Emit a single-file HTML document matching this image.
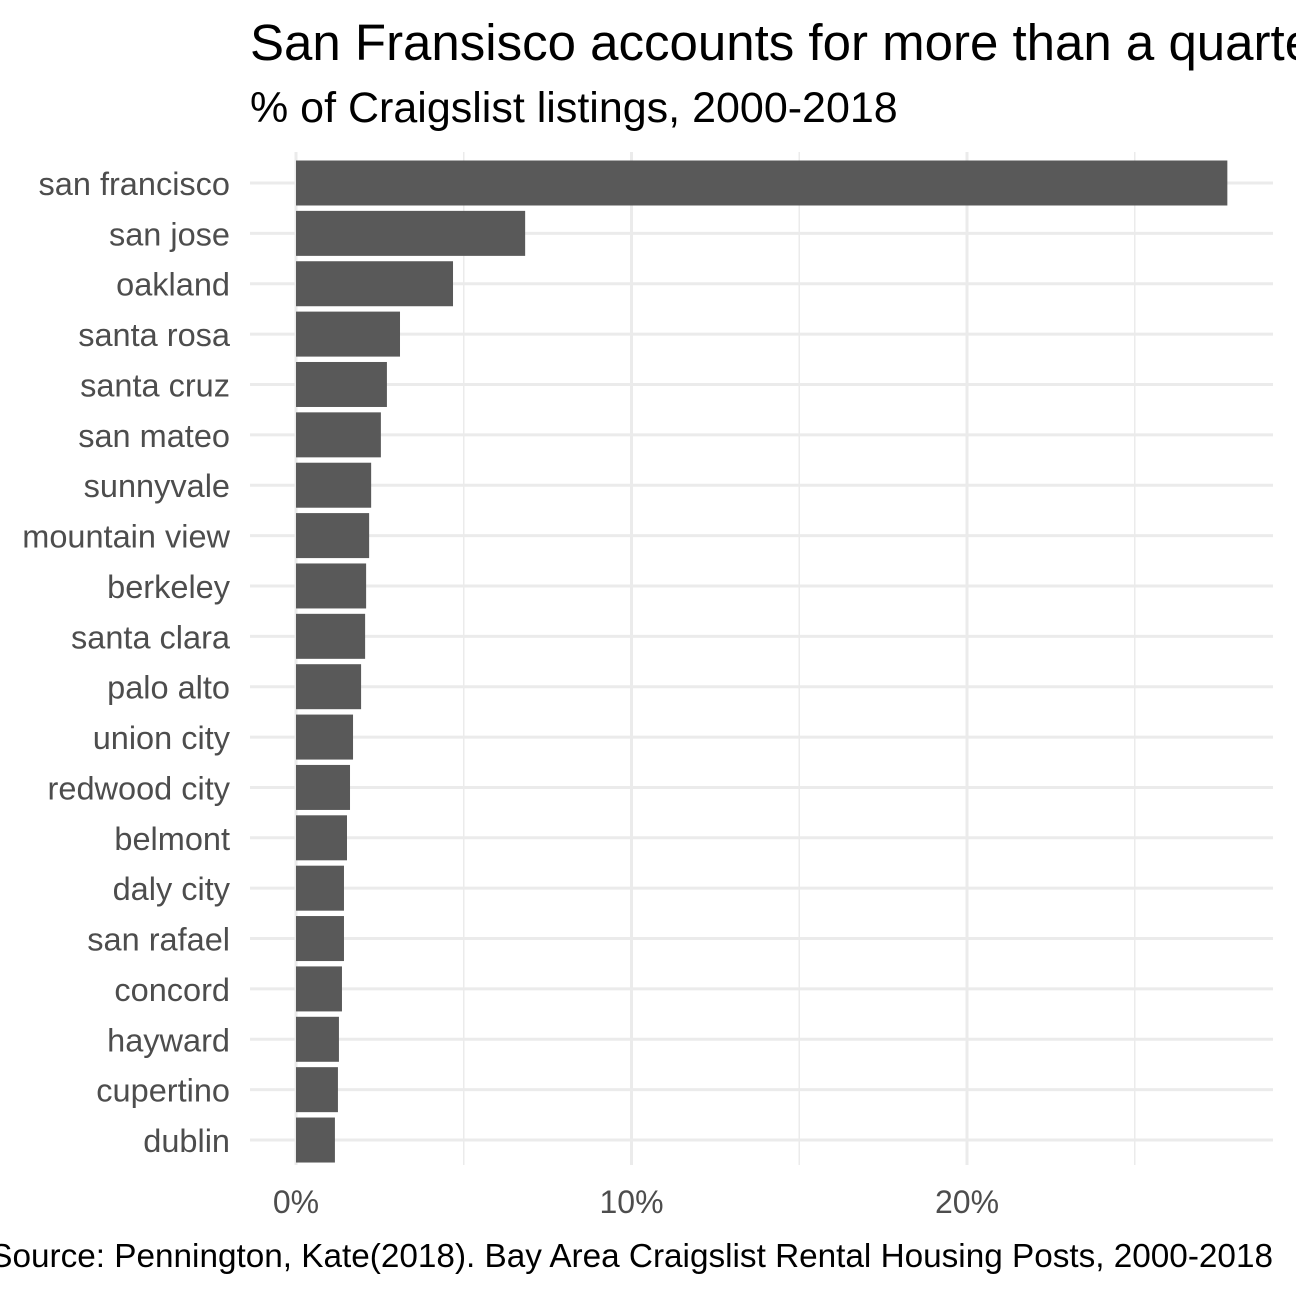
<!DOCTYPE html>
<html><head><meta charset="utf-8"><style>
html,body{margin:0;padding:0;background:#fff;width:1296px;height:1296px;overflow:hidden}
svg{display:block;font-family:"Liberation Sans",Arial,sans-serif}
</style></head><body>
<svg id="chart" width="1296" height="1296">
<text x="250" y="60" font-size="51" fill="#000">San Fransisco accounts for more than a quarter of listings</text>
<text x="250" y="122" font-size="43" fill="#000">% of Craigslist listings, 2000-2018</text>
<g id="grid"></g><g id="bars"></g><g id="ylabels"></g><g id="xlabels"></g>
<text x="1273" y="1267" font-size="33.3" fill="#000" text-anchor="end">Source: Pennington, Kate(2018). Bay Area Craigslist Rental Housing Posts, 2000-2018</text>
</svg>
<script>
const categories=["san francisco","san jose","oakland","santa rosa","santa cruz","san mateo","sunnyvale","mountain view","berkeley","santa clara","palo alto","union city","redwood city","belmont","daly city","san rafael","concord","hayward","cupertino","dublin"];
const values=[27.76,6.83,4.68,3.10,2.71,2.53,2.24,2.18,2.09,2.06,1.94,1.70,1.61,1.52,1.43,1.43,1.37,1.28,1.25,1.16];
const xTicks=[0,10,20];
const xTickLabels=["0%","10%","20%"];
const minorTicks=[5,15,25];
const NS="http://www.w3.org/2000/svg";
const x0=296,pxPer=33.55,y0=183,step=50.37,bh=45,pl=250,pr=1273,pt=152,pb=1165;
const xs=v=>x0+v*pxPer, ys=i=>y0+i*step;
function mk(t,a,p){const e=document.createElementNS(NS,t);for(const k in a)e.setAttribute(k,a[k]);p.appendChild(e);return e;}
const grid=document.getElementById('grid'),bars=document.getElementById('bars'),yl=document.getElementById('ylabels'),xl=document.getElementById('xlabels');
minorTicks.forEach(v=>{const l=mk('line',{x1:xs(v),x2:xs(v),y1:pt,y2:pb,stroke:'#ebebeb','stroke-width':1.5},grid);

});
xTicks.forEach((v,i)=>{const l=mk('line',{x1:xs(v),x2:xs(v),y1:pt,y2:pb,stroke:'#ebebeb','stroke-width':3},grid);


const t=mk('text',{x:xs(v),y:1213,'font-size':32,fill:'#4d4d4d','text-anchor':'middle'},xl);t.textContent=xTickLabels[i];

});
categories.forEach((c,i)=>{const l=mk('line',{x1:pl,x2:pr,y1:ys(i),y2:ys(i),stroke:'#ebebeb','stroke-width':3},grid);


const r=mk('rect',{x:xs(0),y:ys(i)-bh/2,width:xs(values[i])-xs(0),height:bh,fill:'#595959'},bars);


const t=mk('text',{x:230,y:ys(i)+12,'font-size':32.5,fill:'#4d4d4d','text-anchor':'end'},yl);t.textContent=c;

});
</script>
</body></html>
